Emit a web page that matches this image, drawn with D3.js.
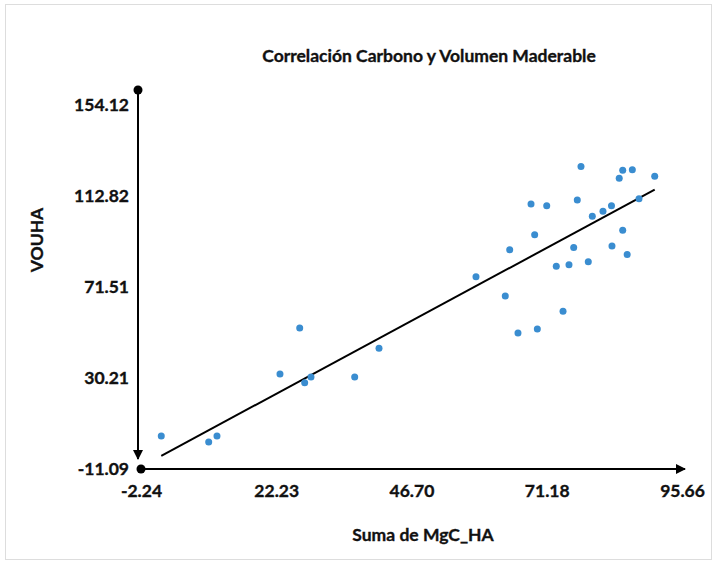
<!DOCTYPE html>
<html>
<head>
<meta charset="utf-8">
<script src="https://cdn.jsdelivr.net/npm/d3@7"></script>
<style>
  body { margin: 0; background: #fff; }
  text { font-family: Lato, "Open Sans", sans-serif; font-weight: 700; fill: #111; stroke: #111; stroke-width: 0.35px; }
</style>
</head>
<body>
<div id="chart"></div>
<script>
// Suma de MgC_HA vs VOUHA
var mgc = [1.43, 10.01, 11.51, 22.91, 26.48, 27.38, 28.52, 36.43, 40.83,
           58.38, 63.68, 64.48, 65.98, 68.34, 69.00, 69.48, 71.18, 72.91,
           74.13, 75.21, 76.06, 76.71, 77.38, 78.70, 79.43, 81.36, 82.90,
           82.99, 84.93, 85.74, 84.30, 84.93, 86.67, 87.88, 90.72];
var vouha = [3.89, 1.16, 3.89, 32.03, 52.91, 28.08, 30.67, 30.67, 43.69,
             76.19, 67.43, 88.45, 50.64, 109.19, 95.26, 52.45, 108.42, 80.91,
             60.49, 81.64, 89.45, 111.01, 126.21, 83.00, 103.61, 105.88, 108.42,
             90.13, 97.30, 86.27, 120.85, 124.48, 124.76, 111.60, 121.76];
var xTicks = [-2.24, 22.23, 46.70, 71.18, 95.66];
var yTicks = [-11.09, 30.21, 71.51, 112.82, 154.12];
// trend line
var trendSlope = 1.3526;
var trendIntercept = -7.03;

var W = 717, H = 564;
var svg = d3.select('#chart').append('svg')
    .attr('width', W)
    .attr('height', H);

svg.append('rect')
    .attr('x', 5.5).attr('y', 4.5)
    .attr('width', W - 11).attr('height', H - 9)
    .attr('fill', 'none')
    .attr('stroke', '#ddd');

var x = d3.scaleLinear().domain([xTicks[0], xTicks[4]]).range([141, 682]);
var y = d3.scaleLinear().domain([yTicks[0], yTicks[4]]).range([469, 105]);

var defs = svg.append('defs');
defs.append('marker')
    .attr('id', 'arrow')
    .attr('viewBox', '0 0 10 10')
    .attr('refX', 9).attr('refY', 5)
    .attr('markerWidth', 5).attr('markerHeight', 5)
    .attr('orient', 'auto')
    .attr('markerUnits', 'strokeWidth')
  .append('path')
    .attr('d', 'M0,0L10,5L0,10z')
    .attr('fill', '#000');

// x axis line
var x0 = x(xTicks[0]), y0 = y(yTicks[0]);
svg.append('line')
    .attr('x1', x0).attr('y1', y0)
    .attr('x2', x(xTicks[4]) + 3).attr('y2', y0)
    .attr('stroke', '#000').attr('stroke-width', 2)
    .attr('marker-end', 'url(#arrow)');
svg.append('circle').attr('cx', x0).attr('cy', y0).attr('r', 4.5).attr('fill', '#000');

// y axis line (points down)
var yx = x0 - 3;
svg.append('line')
    .attr('x1', yx).attr('y1', y(yTicks[4]) - 15)
    .attr('x2', yx).attr('y2', y0 - 10)
    .attr('stroke', '#000').attr('stroke-width', 2)
    .attr('marker-end', 'url(#arrow)');
svg.append('circle').attr('cx', yx).attr('cy', y(yTicks[4]) - 15).attr('r', 4.5).attr('fill', '#000');

// tick labels
var xAxis = d3.axisBottom(x).tickValues(xTicks).tickSize(0).tickPadding(16)
    .tickFormat(function(d){ return d.toFixed(2); });
var gx = svg.append('g').attr('transform', 'translate(0,' + y0 + ')').call(xAxis);
gx.select('.domain').remove();
gx.selectAll('text').style('font-size', '17.5px').style('font-family', 'Lato, sans-serif')
    .style('font-weight', 'bold').attr('fill', '#111');

var yAxis = d3.axisLeft(y).tickValues(yTicks).tickSize(0).tickPadding(12)
    .tickFormat(function(d){ return d.toFixed(2); });
var gy = svg.append('g').attr('transform', 'translate(' + x0 + ',0)').call(yAxis);
gy.select('.domain').remove();
gy.selectAll('text').style('font-size', '17.5px').style('font-family', 'Lato, sans-serif')
    .style('font-weight', 'bold').attr('fill', '#111');

// trend line
var xmin = d3.min(mgc), xmax = d3.max(mgc);
svg.append('line')
    .attr('x1', x(xmin)).attr('y1', y(trendSlope * xmin + trendIntercept))
    .attr('x2', x(xmax)).attr('y2', y(trendSlope * xmax + trendIntercept))
    .attr('stroke', '#000').attr('stroke-width', 2);

// points
svg.append('g')
    .selectAll('circle')
    .data(mgc)
    .enter()
    .append('circle')
    .attr('cx', function(d){ return x(d); })
    .attr('cy', function(d, i){ return y(vouha[i]); })
    .attr('r', 3.5)
    .attr('fill', '#3a8dd0');

// titles
svg.append('text')
    .attr('x', 429).attr('y', 62)
    .attr('text-anchor', 'middle')
    .style('font-size', '17.5px')
    .text('Correlación Carbono y Volumen Maderable');

svg.append('text')
    .attr('x', 423).attr('y', 541)
    .attr('text-anchor', 'middle')
    .style('font-size', '17.5px')
    .text('Suma de MgC_HA');

svg.append('text')
    .attr('transform', 'translate(43,240) rotate(-90)')
    .attr('text-anchor', 'middle')
    .style('font-size', '17.5px')
    .text('VOUHA');
</script>
</body>
</html>
